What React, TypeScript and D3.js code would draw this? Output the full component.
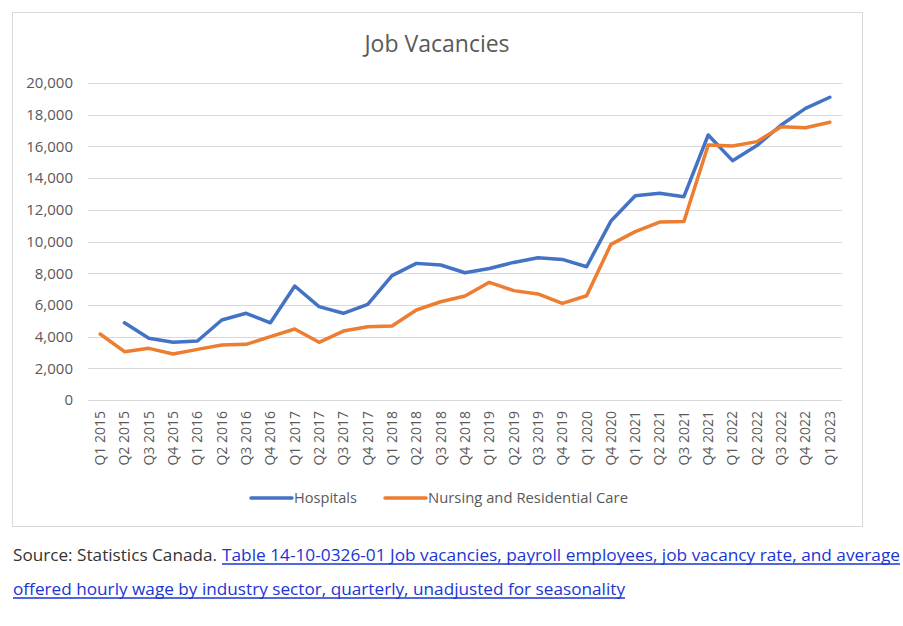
import { useEffect, useRef } from 'react';
import * as d3 from 'd3';

const quarters = [
  'Q1 2015', 'Q2 2015', 'Q3 2015', 'Q4 2015',
  'Q1 2016', 'Q2 2016', 'Q3 2016', 'Q4 2016',
  'Q1 2017', 'Q2 2017', 'Q3 2017', 'Q4 2017',
  'Q1 2018', 'Q2 2018', 'Q3 2018', 'Q4 2018',
  'Q1 2019', 'Q2 2019', 'Q3 2019', 'Q4 2019',
  'Q1 2020', 'Q4 2020',
  'Q1 2021', 'Q2 2021', 'Q3 2021', 'Q4 2021',
  'Q1 2022', 'Q2 2022', 'Q3 2022', 'Q4 2022',
  'Q1 2023',
];

const hospitals: (number | null)[] = [
  null, 4870, 3890, 3640, 3720, 5050, 5470, 4870,
  7190, 5890, 5470, 6035, 7850, 8620, 8520, 8030,
  8300, 8680, 8980, 8870, 8410, 11290,
  12890, 13040, 12830, 16720, 15100, 16050, 17350, 18400,
  19100,
];

const nursing: number[] = [
  4165, 3050, 3260, 2900, 3195, 3470, 3510, 3995,
  4480, 3640, 4350, 4625, 4670, 5680, 6200, 6560,
  7425, 6900, 6690, 6100, 6580, 9820,
  10620, 11230, 11260, 16090, 16025, 16300, 17245, 17180,
  17520,
];

const yTicks = [0, 2000, 4000, 6000, 8000, 10000, 12000, 14000, 16000, 18000, 20000];

const seriesNames = ['Hospitals', 'Nursing and Residential Care'];
const seriesColors = ['#4472C4', '#ED7D31'];

const sourceLead = 'Source: Statistics Canada.';
const sourceLink1 = 'Table 14-10-0326-01  Job vacancies, payroll employees, job vacancy rate, and average';
const sourceLink2 = 'offered hourly wage by industry sector, quarterly, unadjusted for seasonality';

export default function App() {
  const ref = useRef<SVGSVGElement>(null);

  useEffect(() => {
    const svg = d3.select(ref.current);
    svg.selectAll('*').remove();

    const left = 88;
    const right = 842;
    const top = 83;
    const bottom = 400;
    const textColor = '#595959';
    const font = "'Open Sans', sans-serif";

    // chart frame
    svg
      .append('rect')
      .attr('x', 12.5)
      .attr('y', 12.5)
      .attr('width', 850)
      .attr('height', 514)
      .attr('fill', 'white')
      .attr('stroke', '#d9d9d9');

    svg
      .append('text')
      .attr('x', 437)
      .attr('y', 52)
      .attr('text-anchor', 'middle')
      .style('font-family', font)
      .style('font-size', '23px')
      .style('fill', textColor)
      .text('Job Vacancies');

    const x = d3.scaleBand().domain(quarters).range([left, right]);
    const y = d3.scaleLinear().domain([0, 20000]).range([bottom, top]);

    // gridlines
    svg
      .append('g')
      .selectAll('line')
      .data(yTicks)
      .enter()
      .append('line')
      .attr('x1', left)
      .attr('x2', right)
      .attr('y1', d => Math.round(y(d)) + 0.5)
      .attr('y2', d => Math.round(y(d)) + 0.5)
      .attr('stroke', '#d9d9d9')
      .attr('stroke-width', 1);

    const yAxis = d3
      .axisLeft(y)
      .tickValues(yTicks)
      .tickSize(0)
      .tickPadding(0)
      .tickFormat(d => d3.format(',')(d as number));

    const yg = svg.append('g').attr('transform', `translate(73,0)`).call(yAxis);
    yg.select('.domain').remove();
    yg.selectAll('text')
      .style('font-family', font)
      .style('font-size', '15px')
      .style('fill', textColor);

    const xAxis = d3.axisBottom(x).tickSize(0).tickPadding(0);
    const xg = svg.append('g').attr('transform', `translate(0,${bottom})`).call(xAxis);
    xg.select('.domain').remove();
    xg.selectAll('text')
      .attr('transform', 'rotate(-90)')
      .attr('x', -11)
      .attr('y', 0)
      .attr('dy', '0.35em')
      .attr('text-anchor', 'end')
      .style('font-family', font)
      .style('font-size', '14px')
      .style('fill', textColor);

    const cx = (q: string) => (x(q) as number) + x.bandwidth() / 2;

    const line = d3
      .line<number | null>()
      .defined(d => d !== null)
      .x((_, i) => cx(quarters[i]))
      .y(d => y(d as number));

    [hospitals, nursing].forEach((s, i) => {
      svg
        .append('path')
        .datum(s)
        .attr('d', line)
        .attr('fill', 'none')
        .attr('stroke', seriesColors[i])
        .attr('stroke-width', 3.5)
        .attr('stroke-linejoin', 'round')
        .attr('stroke-linecap', 'round');
    });

    // legend
    const legendItems = [
      { x0: 251, x1: 292, tx: 294, tl: 63 },
      { x0: 385, x1: 426, tx: 428, tl: 200 },
    ];
    legendItems.forEach((li, i) => {
      svg
        .append('line')
        .attr('x1', li.x0)
        .attr('x2', li.x1)
        .attr('y1', 498)
        .attr('y2', 498)
        .attr('stroke', seriesColors[i])
        .attr('stroke-width', 3.5)
        .attr('stroke-linecap', 'round');
      svg
        .append('text')
        .attr('x', li.tx)
        .attr('y', 503)
        .attr('textLength', li.tl)
        .attr('lengthAdjust', 'spacingAndGlyphs')
        .style('font-family', font)
        .style('font-size', '15px')
        .style('fill', textColor)
        .text(seriesNames[i]);
    });

    // source
    const linkColor = '#1a35d4';
    svg
      .append('text')
      .attr('x', 13)
      .attr('y', 561)
      .attr('textLength', 204)
      .attr('lengthAdjust', 'spacingAndGlyphs')
      .style('font-family', font)
      .style('font-size', '16.5px')
      .style('fill', '#333333')
      .text(sourceLead);

    const links = [
      { x: 222, yy: 561, w: 678, t: sourceLink1 },
      { x: 13, yy: 595, w: 612, t: sourceLink2 },
    ];
    links.forEach(l => {
      svg
        .append('text')
        .attr('x', l.x)
        .attr('y', l.yy)
        .attr('textLength', l.w)
        .attr('lengthAdjust', 'spacingAndGlyphs')
        .style('font-family', font)
        .style('font-size', '16.5px')
        .style('fill', linkColor)
        .text(l.t);
      svg
        .append('line')
        .attr('x1', l.x)
        .attr('x2', l.x + l.w)
        .attr('y1', l.yy + 3)
        .attr('y2', l.yy + 3)
        .attr('stroke', linkColor)
        .attr('stroke-width', 1.5);
    });
  }, []);

  return (
    <svg
      ref={ref}
      width={903}
      height={626}
      style={{ position: 'absolute', left: 0, top: 0, background: 'white' }}
    />
  );
}
